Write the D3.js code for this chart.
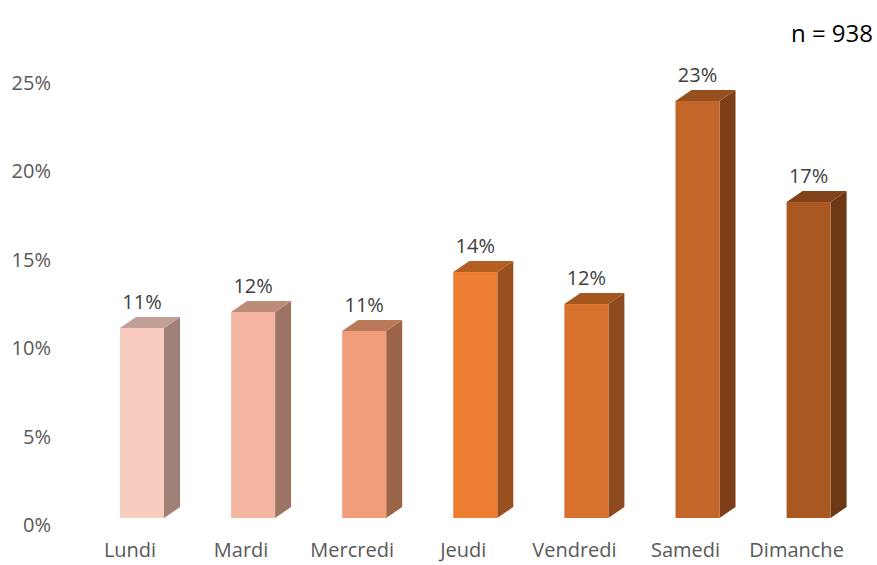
<!DOCTYPE html>
<html>
<head>
<meta charset="utf-8">
<script src="https://cdn.jsdelivr.net/npm/d3@7"></script>
<style>
  html, body { margin: 0; padding: 0; background: #ffffff; }
  svg { display: block; font-family: "Open Sans", "Liberation Sans", sans-serif; }
</style>
</head>
<body>
<svg id="chart" width="877" height="565"></svg>
<script>
// ---- data ----
const categories = ["Lundi", "Mardi", "Mercredi", "Jeudi", "Vendredi", "Samedi", "Dimanche"];
const values = [0.1075, 0.1165, 0.1058, 0.1391, 0.1210, 0.2359, 0.1787];
const valueLabels = ["11%", "12%", "11%", "14%", "12%", "23%", "17%"];
const yTicks = [0, 0.05, 0.10, 0.15, 0.20, 0.25];
const note = "n = 938";
const frontColors = ["#F9CCC0", "#F5B6A1", "#F19C78", "#ED7D31", "#D8712E", "#C4652A", "#A85820"];
const topColors   = ["#BF9F96", "#BD8C79", "#B9785A", "#B35F22", "#A5561E", "#97501D", "#82421A"];
const sideColors  = ["#A08178", "#9C7464", "#9B6448", "#995020", "#8C4A1E", "#7E3F18", "#6E3814"];

const svg = d3.select("#chart");
const depthX = 16, depthY = 11;

const x = d3.scaleBand()
  .domain(categories)
  .range([86.45, 864.15])
  .paddingInner(0.604)
  .paddingOuter(0.302);

const y = d3.scaleLinear().domain([0, 0.25]).range([518, 76]);

// y axis labels (back plane, drawn slightly lower than bar fronts)
const yAxis = d3.axisLeft(y).tickValues(yTicks).tickFormat(d3.format(".0%")).tickSize(0).tickPadding(0);
const gy = svg.append("g").attr("transform", "translate(51,7)").call(yAxis);
gy.select(".domain").remove();
gy.selectAll("text")
  .attr("fill", "#595959")
  .style("font-size", "20px")
  .style("font-family", "'Open Sans', sans-serif");

const data = categories.map((c, i) => ({ c, v: values[i], label: valueLabels[i], i }));

const bars = svg.append("g").selectAll("g").data(data).join("g");

// side face
bars.append("path")
  .attr("d", d => {
    const x1 = x(d.c) + x.bandwidth(), yt = y(d.v), yb = y(0);
    return `M${x1},${yt} L${x1 + depthX},${yt - depthY} L${x1 + depthX},${yb - depthY} L${x1},${yb} Z`;
  })
  .attr("fill", d => sideColors[d.i]);

// top face
bars.append("path")
  .attr("d", d => {
    const x0 = x(d.c), x1 = x0 + x.bandwidth(), yt = y(d.v);
    return `M${x0},${yt} L${x0 + depthX},${yt - depthY} L${x1 + depthX},${yt - depthY} L${x1},${yt} Z`;
  })
  .attr("fill", d => topColors[d.i]);

// front face
bars.append("rect")
  .attr("x", d => x(d.c))
  .attr("y", d => y(d.v))
  .attr("width", x.bandwidth())
  .attr("height", d => y(0) - y(d.v))
  .attr("fill", d => frontColors[d.i]);

// value labels
bars.append("text")
  .attr("x", d => x(d.c) + x.bandwidth() / 2)
  .attr("y", d => y(d.v) - 19)
  .attr("text-anchor", "middle")
  .attr("fill", "#404040")
  .style("font-size", "20px")
  .text(d => d.label);

// category labels
const xAxis = d3.axisBottom(x).tickSize(0).tickPadding(0);
const gx = svg.append("g").attr("transform", "translate(-12,548)").call(xAxis);
gx.select(".domain").remove();
gx.selectAll("text")
  .attr("fill", "#595959")
  .attr("dy", "0.71em")
  .attr("y", -5)
  .style("font-size", "20px")
  .style("font-family", "'Open Sans', sans-serif");

// note
svg.append("text")
  .attr("x", 873)
  .attr("y", 42)
  .attr("text-anchor", "end")
  .attr("fill", "#000000")
  .style("font-size", "24px")
  .text(note);
</script>
</body>
</html>
